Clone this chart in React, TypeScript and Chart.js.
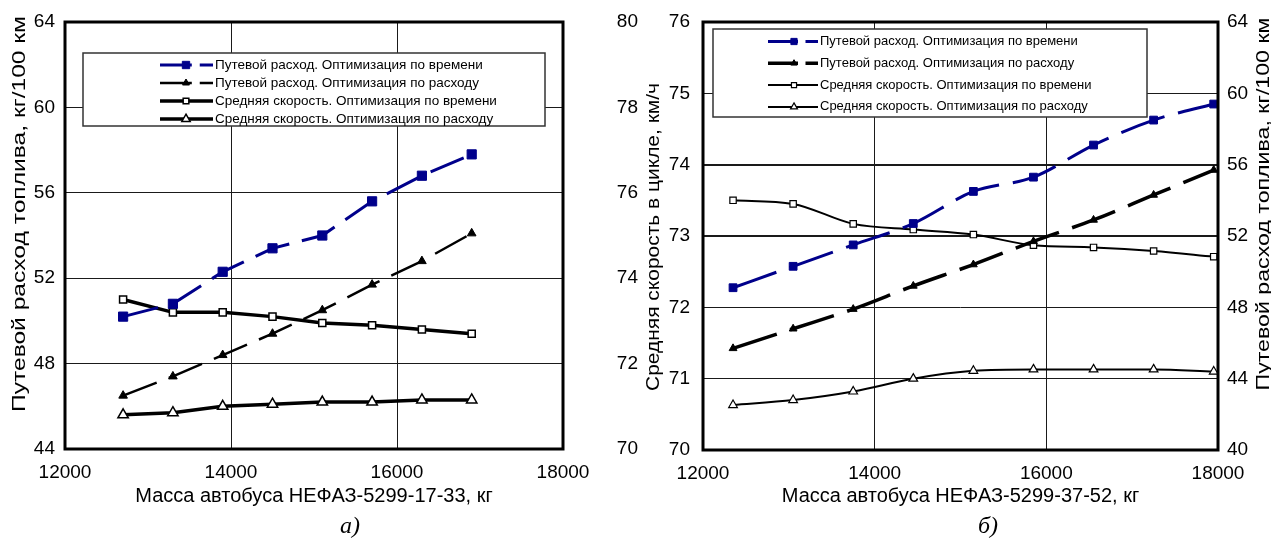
import React, { useEffect, useRef } from "react";
import { Chart, registerables } from "chart.js";
import { drawPoint } from "chart.js/helpers";

Chart.register(...registerables);

const FONT = "'Liberation Sans', Arial, sans-serif";
const NAVY = "#00008B";

// ---------- data: panel а) ----------
const massA = [12700, 13300, 13900, 14500, 15100, 15700, 16300, 16900];
const fuelTimeA = [50.2, 50.8, 52.3, 53.4, 54.0, 55.6, 56.8, 57.8];
const fuelEconA = [46.5, 47.4, 48.4, 49.4, 50.5, 51.7, 52.8, 54.1];
const speedTimeA = [73.5, 73.2, 73.2, 73.1, 72.95, 72.9, 72.8, 72.7];
const speedEconA = [70.8, 70.85, 71.0, 71.05, 71.1, 71.1, 71.15, 71.15];

// ---------- data: panel б) ----------
const massB = [12350, 13050, 13750, 14450, 15150, 15850, 16550, 17250, 17950];
const fuelTimeB = [49.1, 50.3, 51.5, 52.7, 54.5, 55.3, 57.1, 58.5, 59.4];
const fuelEconB = [45.7, 46.8, 47.9, 49.2, 50.4, 51.7, 52.9, 54.3, 55.7];
const speedTimeB = [73.5, 73.45, 73.17, 73.09, 73.02, 72.87, 72.84, 72.79, 72.71];
const speedEconB = [70.63, 70.7, 70.82, 71.0, 71.11, 71.13, 71.13, 71.13, 71.1];

// ---------- tick labels ----------
const massTicks = [12000, 14000, 16000, 18000];
const fuelTicksA = [44, 48, 52, 56, 60, 64];
const speedTicksA = [70, 72, 74, 76, 78, 80];
const speedTicksB = [70, 71, 72, 73, 74, 75, 76];
const fuelTicksB = [40, 44, 48, 52, 56, 60, 64];

// ---------- texts ----------
const seriesLabels = [
  "Путевой расход. Оптимизация по времени",
  "Путевой расход. Оптимизация по расходу",
  "Средняя скорость. Оптимизация по времени",
  "Средняя скорость. Оптимизация по расходу",
];
const fuelTitle = "Путевой расход топлива, кг/100 км";
const speedTitle = "Средняя скорость в цикле, км/ч";
const xTitleA = "Масса автобуса НЕФАЗ-5299-17-33, кг";
const xTitleB = "Масса автобуса НЕФАЗ-5299-37-52, кг";

const pts = (xs: number[], ys: number[]) => xs.map((x, i) => ({ x, y: ys[i] }));

// ---------- plugins ----------
const framePlugin = {
  id: "frame",
  afterDatasetsDraw(chart: any) {
    const { ctx } = chart;
    const { left, top, width, height } = chart.chartArea;
    ctx.save();
    ctx.strokeStyle = "#000";
    ctx.lineWidth = 3;
    ctx.strokeRect(left, top, width, height);
    ctx.restore();
  },
};

const vTitlePlugin = {
  id: "vtitles",
  afterDraw(chart: any, _a: any, o: any) {
    const { ctx } = chart;
    const items = o.items || [];
    for (let k = 0; k < items.length; k++) {
      const it = items[k];
      ctx.save();
      ctx.translate(it.x, it.y);
      ctx.rotate(-Math.PI / 2);
      ctx.font = `${it.size}px ${FONT}`;
      ctx.fillStyle = "#000";
      ctx.textAlign = "center";
      ctx.textBaseline = "middle";
      if (it.length) {
        const w = ctx.measureText(it.text).width;
        ctx.scale(it.length / w, 1);
      }
      ctx.fillText(it.text, 0, 0);
      ctx.restore();
    }
  },
};

const boxLegendPlugin = {
  id: "boxLegend",
  afterDraw(chart: any, _a: any, o: any) {
    const { ctx } = chart;
    ctx.save();
    ctx.fillStyle = "#fff";
    ctx.fillRect(o.x, o.y, o.w, o.h);
    ctx.strokeStyle = "#333";
    ctx.lineWidth = 1.5;
    ctx.strokeRect(o.x, o.y, o.w, o.h);
    const len = o.s1 - o.s0;
    chart.data.datasets.forEach((ds: any, i: number) => {
      const y = o.rowY0 + i * o.rowH;
      ctx.strokeStyle = ds.borderColor;
      ctx.lineWidth = ds.borderWidth;
      ctx.setLineDash(ds.borderDash && ds.borderDash.length ? [len * 0.6, len * 0.15] : []);
      ctx.beginPath();
      ctx.moveTo(o.s0, y);
      ctx.lineTo(o.s1, y);
      ctx.stroke();
      ctx.setLineDash([]);
      ctx.fillStyle = ds.pointBackgroundColor;
      ctx.strokeStyle = ds.pointBorderColor;
      ctx.lineWidth = ds.pointBorderWidth;
      drawPoint(
        ctx,
        { pointStyle: ds.pointStyle, radius: ds.pointRadius * o.markerScale, rotation: 0, borderWidth: ds.pointBorderWidth } as any,
        o.mx,
        y
      );
      ctx.fillStyle = "#000";
      ctx.font = `${o.fontSize}px ${FONT}`;
      ctx.textAlign = "left";
      ctx.textBaseline = "middle";
      ctx.fillText(ds.label, o.tx, y);
    });
    ctx.restore();
  },
};

const tickFont = { family: FONT, size: 19 };

function fixedTicks(values: number[]) {
  return (s: any) => {
    s.ticks = values.map((v) => ({ value: v }));
  };
}

function fitY(width: number) {
  return (s: any) => {
    s.width = width;
    s.paddingTop = 10;
    s.paddingBottom = 10;
  };
}

function xScale(title: string, height: number) {
  return {
    type: "linear",
    position: "bottom",
    min: 12000,
    max: 18000,
    afterBuildTicks: fixedTicks(massTicks),
    afterFit: (s: any) => {
      s.height = height;
    },
    grid: { color: "#1a1a1a", lineWidth: 1, drawTicks: false },
    border: { display: false },
    ticks: { color: "#000", font: tickFont, padding: 12, maxRotation: 0, autoSkip: false, callback: (v: any) => String(v) },
    title: { display: true, text: title, color: "#000", font: { family: FONT, size: 20 }, padding: { top: 0, bottom: 7 } },
  };
}

function configA(): any {
  return {
    type: "line",
    data: {
      datasets: [
        {
          label: seriesLabels[0],
          data: pts(massA, fuelTimeA),
          yAxisID: "yFuel",
          borderColor: NAVY,
          borderWidth: 3,
          borderDash: [36, 13],
          pointStyle: "rect",
          pointRadius: 6.5,
          pointBackgroundColor: NAVY,
          pointBorderColor: NAVY,
          pointBorderWidth: 1,
        },
        {
          label: seriesLabels[1],
          data: pts(massA, fuelEconA),
          yAxisID: "yFuel",
          borderColor: "#000",
          borderWidth: 2.5,
          borderDash: [36, 13],
          pointStyle: "triangle",
          pointRadius: 5,
          pointBackgroundColor: "#000",
          pointBorderColor: "#000",
          pointBorderWidth: 1,
        },
        {
          label: seriesLabels[2],
          data: pts(massA, speedTimeA),
          yAxisID: "ySpeed",
          borderColor: "#000",
          borderWidth: 3.5,
          borderDash: [],
          pointStyle: "rect",
          pointRadius: 5,
          pointBackgroundColor: "#fff",
          pointBorderColor: "#000",
          pointBorderWidth: 1.5,
        },
        {
          label: seriesLabels[3],
          data: pts(massA, speedEconA),
          yAxisID: "ySpeed",
          borderColor: "#000",
          borderWidth: 3.5,
          borderDash: [],
          pointStyle: "triangle",
          pointRadius: 6,
          pointBackgroundColor: "#fff",
          pointBorderColor: "#000",
          pointBorderWidth: 1.5,
        },
      ],
    },
    options: {
      responsive: false,
      animation: false,
      devicePixelRatio: 1,
      layout: { padding: { top: 22, left: 0, right: 2, bottom: 0 } },
      elements: { line: { tension: 0 } },
      scales: {
        x: xScale(xTitleA, 66),
        yFuel: {
          type: "linear",
          position: "left",
          min: 44,
          max: 64,
          afterBuildTicks: fixedTicks(fuelTicksA),
          afterFit: fitY(65),
          grid: { color: "#1a1a1a", lineWidth: 1, drawTicks: false },
          border: { display: false },
          ticks: { color: "#000", font: tickFont, padding: 10 },
        },
        ySpeed: {
          type: "linear",
          position: "right",
          min: 70,
          max: 80,
          afterBuildTicks: fixedTicks(speedTicksA),
          afterFit: fitY(75),
          grid: { display: false, drawTicks: false },
          border: { display: false },
          ticks: { color: "#000", font: tickFont, padding: 10, crossAlign: "far" },
        },
      },
      plugins: {
        legend: { display: false },
        tooltip: { enabled: false },
        vtitles: { items: [{ text: fuelTitle, x: 20, y: 214, size: 18, length: 396 }] },
        boxLegend: { x: 83, y: 53, w: 462, h: 73, rowY0: 65, rowH: 18, s0: 160, s1: 213, mx: 186, tx: 215, fontSize: 13.5, markerScale: 0.8 },
      },
    },
    plugins: [framePlugin, vTitlePlugin, boxLegendPlugin],
  };
}

function configB(): any {
  return {
    type: "line",
    data: {
      datasets: [
        {
          label: seriesLabels[0],
          data: pts(massB, fuelTimeB),
          yAxisID: "yFuel",
          borderColor: NAVY,
          borderWidth: 3,
          borderDash: [46, 14],
          pointStyle: "rect",
          pointRadius: 5.5,
          pointBackgroundColor: NAVY,
          pointBorderColor: NAVY,
          pointBorderWidth: 1,
        },
        {
          label: seriesLabels[1],
          data: pts(massB, fuelEconB),
          yAxisID: "yFuel",
          borderColor: "#000",
          borderWidth: 3.5,
          borderDash: [46, 14],
          pointStyle: "triangle",
          pointRadius: 4.5,
          pointBackgroundColor: "#000",
          pointBorderColor: "#000",
          pointBorderWidth: 1,
        },
        {
          label: seriesLabels[2],
          data: pts(massB, speedTimeB),
          yAxisID: "ySpeed",
          borderColor: "#000",
          borderWidth: 2,
          borderDash: [],
          pointStyle: "rect",
          pointRadius: 4.5,
          pointBackgroundColor: "#fff",
          pointBorderColor: "#000",
          pointBorderWidth: 1.2,
        },
        {
          label: seriesLabels[3],
          data: pts(massB, speedEconB),
          yAxisID: "ySpeed",
          borderColor: "#000",
          borderWidth: 2,
          borderDash: [],
          pointStyle: "triangle",
          pointRadius: 5,
          pointBackgroundColor: "#fff",
          pointBorderColor: "#000",
          pointBorderWidth: 1.2,
        },
      ],
    },
    options: {
      responsive: false,
      animation: false,
      devicePixelRatio: 1,
      layout: { padding: { top: 22, left: 0, right: 0, bottom: 0 } },
      elements: { line: { tension: 0.4, cubicInterpolationMode: "monotone" } },
      scales: {
        x: xScale(xTitleB, 65),
        ySpeed: {
          type: "linear",
          position: "left",
          min: 70,
          max: 76,
          afterBuildTicks: fixedTicks(speedTicksB),
          afterFit: fitY(63),
          grid: {
            color: "#1a1a1a",
            lineWidth: (c: any) => (c.tick && (c.tick.value === 73 || c.tick.value === 74) ? 2 : 1),
            drawTicks: false,
          },
          border: { display: false },
          ticks: { color: "#000", font: tickFont, padding: 13 },
        },
        yFuel: {
          type: "linear",
          position: "right",
          min: 40,
          max: 64,
          afterBuildTicks: fixedTicks(fuelTicksB),
          afterFit: fitY(53),
          grid: { display: false, drawTicks: false },
          border: { display: false },
          ticks: { color: "#000", font: tickFont, padding: 9 },
        },
      },
      plugins: {
        legend: { display: false },
        tooltip: { enabled: false },
        vtitles: {
          items: [
            { text: speedTitle, x: 14, y: 237, size: 18, length: 308 },
            { text: fuelTitle, x: 624, y: 204, size: 18, length: 373 },
          ],
        },
        boxLegend: { x: 73, y: 29, w: 434, h: 88, rowY0: 41.5, rowH: 21.8, s0: 128, s1: 178, mx: 154, tx: 180, fontSize: 13, markerScale: 0.8 },
      },
    },
    plugins: [framePlugin, vTitlePlugin, boxLegendPlugin],
  };
}

function ChartPanel(props: { make: () => any; left: number; width: number; height: number }) {
  const ref = useRef<HTMLCanvasElement>(null);
  useEffect(() => {
    const chart = new Chart(ref.current as HTMLCanvasElement, props.make());
    return () => chart.destroy();
  }, []);
  return (
    <div style={{ position: "absolute", left: props.left, top: 0, width: props.width, height: props.height }}>
      <canvas ref={ref} width={props.width} height={props.height} style={{ display: "block", width: props.width, height: props.height }} />
    </div>
  );
}

const panelLabel: React.CSSProperties = {
  position: "absolute",
  top: 513,
  fontFamily: "'Liberation Serif', 'Times New Roman', serif",
  fontStyle: "italic",
  fontSize: 24,
  lineHeight: "24px",
  color: "#000",
  whiteSpace: "nowrap",
};

export default function App() {
  return (
    <div style={{ position: "fixed", left: 0, top: 0, width: 1271, height: 538, background: "#fff", overflow: "hidden" }}>
      <ChartPanel make={configA} left={0} width={640} height={515} />
      <ChartPanel make={configB} left={640} width={631} height={515} />
      <div style={{ ...panelLabel, left: 340 }}>а)</div>
      <div style={{ ...panelLabel, left: 978 }}>б)</div>
    </div>
  );
}
